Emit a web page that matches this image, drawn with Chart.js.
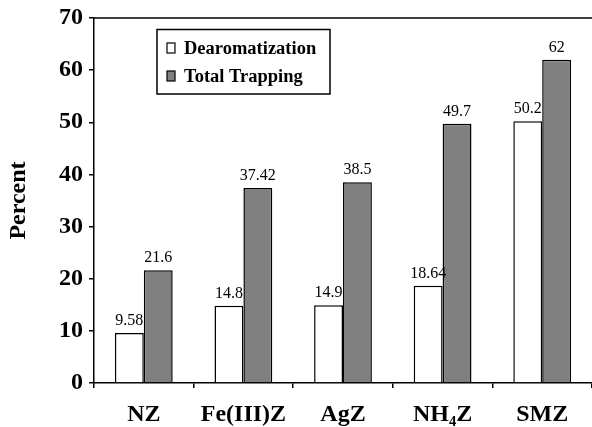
<!DOCTYPE html>
<html lang="en">
<head>
    <meta charset="UTF-8">
    <title>Percent chart</title>
    <script src="https://cdn.jsdelivr.net/npm/chart.js"></script>
    <style>
        html, body { margin: 0; padding: 0; background: #fff; }
        #wrap { width: 592px; height: 427px; position: relative; }
    </style>
</head>
<body>
    <div id="wrap">
        <canvas id="myChart" width="592" height="427"></canvas>
    </div>

<script>
    // dados do gráfico
    const categorias = ['NZ', 'Fe(III)Z', 'AgZ', 'NH\u2084Z', 'SMZ'];
    const dearomatization = [9.58, 14.8, 14.9, 18.64, 50.2];
    const totalTrapping = [21.6, 37.42, 38.5, 49.7, 62];
    const rotulosDearom = ['9.58', '14.8', '14.9', '18.64', '50.2'];
    const rotulosTrap = ['21.6', '37.42', '38.5', '49.7', '62'];

    const serif = '"Liberation Serif", "Times New Roman", serif';

    // rótulos de valor acima das barras
    const rotulosPlugin = {
        id: 'rotulos',
        afterDatasetsDraw(chart) {
            const ctx = chart.ctx;
            ctx.save();
            ctx.font = '16px ' + serif;
            ctx.fillStyle = '#000';
            ctx.textAlign = 'center';
            ctx.textBaseline = 'alphabetic';
            const textos = [rotulosDearom, rotulosTrap];
            chart.data.datasets.forEach(function (ds, i) {
                chart.getDatasetMeta(i).data.forEach(function (bar, j) {
                    ctx.fillText(textos[i][j], bar.x, bar.y - 8);
                });
            });
            ctx.restore();
        }
    };

    // moldura superior + legenda com caixa
    const legendaPlugin = {
        id: 'legendaCaixa',
        afterDraw(chart) {
            const ctx = chart.ctx;
            const area = chart.chartArea;
            ctx.save();
            ctx.strokeStyle = '#000';
            ctx.lineWidth = 1.5;
            ctx.beginPath();
            ctx.moveTo(area.left, area.top);
            ctx.lineTo(area.right, area.top);
            ctx.stroke();

            // caixa da legenda
            ctx.strokeRect(157, 29.5, 173, 64.5);
            ctx.font = 'bold 18.5px ' + serif;
            ctx.textBaseline = 'middle';
            ctx.textAlign = 'left';
            chart.data.datasets.forEach(function (ds, i) {
                const y = 48 + i * 28;
                ctx.fillStyle = ds.backgroundColor;
                ctx.fillRect(167, y - 5, 8, 10);
                ctx.lineWidth = 1.2;
                ctx.strokeRect(167, y - 5, 8, 10);
                ctx.fillStyle = '#000';
                ctx.fillText(ds.label, 184, y + 1);
            });
            ctx.restore();
        }
    };

    const config = {
        type: 'bar',
        data: {
            labels: categorias,
            datasets: [{
                label: 'Dearomatization',
                data: dearomatization,
                backgroundColor: '#ffffff',
                borderColor: '#000000',
                borderWidth: 1.5,
                categoryPercentage: 0.58,
                barPercentage: 1.0
            }, {
                label: 'Total Trapping',
                data: totalTrapping,
                backgroundColor: '#808080',
                borderColor: '#000000',
                borderWidth: 1.5,
                categoryPercentage: 0.58,
                barPercentage: 1.0
            }]
        },
        options: {
            responsive: false,
            animation: false,
            layout: { padding: { top: 18, right: 0, left: 0, bottom: 0 } },
            plugins: {
                legend: { display: false },
                tooltip: { enabled: false }
            },
            scales: {
                x: {
                    grid: { drawOnChartArea: false, tickLength: 5, color: '#000', lineWidth: 1.5 },
                    border: { display: true, color: '#000', width: 1.5 },
                    ticks: {
                        color: '#000',
                        padding: 12,
                        font: { family: serif, size: 24, weight: 'bold' }
                    },
                    afterFit(scale) { scale.height = 44; }
                },
                y: {
                    min: 0,
                    max: 70,
                    ticks: {
                        stepSize: 10,
                        color: '#000',
                        padding: 6,
                        font: { family: serif, size: 24, weight: 'bold', lineHeight: 1 }
                    },
                    grid: { drawOnChartArea: false, tickLength: 5, color: '#000', lineWidth: 1.5 },
                    border: { display: true, color: '#000', width: 1.5 },
                    title: {
                        display: true,
                        text: 'Percent',
                        color: '#000',
                        padding: { top: 4, bottom: 0 },
                        font: { family: serif, size: 24, weight: 'bold' }
                    },
                    afterFit(scale) { scale.width = 94; }
                }
            }
        },
        plugins: [rotulosPlugin, legendaPlugin]
    };

    new Chart(document.getElementById('myChart'), config);
</script>
</body>
</html>
